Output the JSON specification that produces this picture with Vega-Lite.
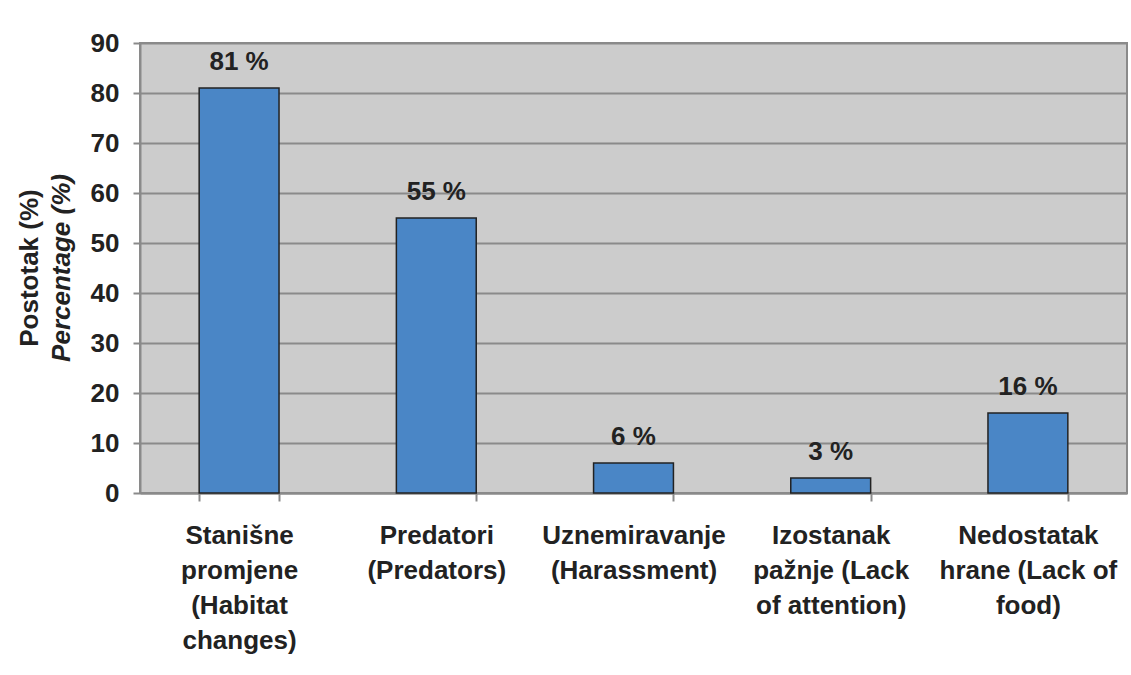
{
  "$schema": "https://vega.github.io/schema/vega-lite/v6.json",
  "width": 987,
  "height": 450,
  "autosize": {"type": "none"},
  "padding": {"left": 140, "top": 43, "right": 4, "bottom": 182},
  "background": "white",
  "data": {
    "values": [
      {"cat": "Stanišne|promjene|(Habitat|changes)", "pct": 81, "lbl": "81 %"},
      {"cat": "Predatori|(Predators)", "pct": 55, "lbl": "55 %"},
      {"cat": "Uznemiravanje|(Harassment)", "pct": 6, "lbl": "6 %"},
      {"cat": "Izostanak|pažnje (Lack|of attention)", "pct": 3, "lbl": "3 %"},
      {"cat": "Nedostatak|hrane (Lack of|food)", "pct": 16, "lbl": "16 %"}
    ]
  },
  "title": {
    "text": "Postotak (%)",
    "subtitle": "Percentage (%)",
    "orient": "left",
    "anchor": "middle",
    "font": "Liberation Sans",
    "fontSize": 26,
    "fontWeight": "bold",
    "color": "#222222",
    "subtitleFont": "Liberation Sans",
    "subtitleFontSize": 26,
    "subtitleFontWeight": "bold",
    "subtitleFontStyle": "italic",
    "subtitleColor": "#222222",
    "subtitlePadding": 6,
    "offset": 15
  },
  "config": {
    "view": {"fill": "#cccccc", "stroke": "#8a8a8a", "strokeWidth": 2},
    "font": "Liberation Sans"
  },
  "encoding": {
    "x": {
      "field": "cat",
      "type": "nominal",
      "sort": null,
      "scale": {"paddingInner": 0.595, "paddingOuter": 0.3},
      "axis": {
        "title": null,
        "labelAngle": 0,
        "labelExpr": "split(datum.label, '|')",
        "labelFont": "Liberation Sans",
        "labelFontSize": 26,
        "labelFontWeight": "bold",
        "labelColor": "#222222",
        "labelLineHeight": 35,
        "labelPadding": 21,
        "labelLimit": 0,
        "tickBand": "extent",
        "tickSize": 8,
        "tickColor": "#8a8a8a",
        "tickWidth": 2,
        "domainColor": "#8a8a8a",
        "domainWidth": 2,
        "grid": false
      }
    },
    "y": {
      "field": "pct",
      "type": "quantitative",
      "scale": {"domain": [0, 90], "nice": false},
      "axis": {
        "title": null,
        "values": [0, 10, 20, 30, 40, 50, 60, 70, 80, 90],
        "labelFont": "Liberation Sans",
        "labelFontSize": 26,
        "labelFontWeight": "bold",
        "labelColor": "#222222",
        "labelPadding": 14,
        "tickSize": 7,
        "tickColor": "#8a8a8a",
        "tickWidth": 2,
        "domainColor": "#8a8a8a",
        "domainWidth": 2,
        "grid": true,
        "gridColor": "#8a8a8a",
        "gridWidth": 2
      }
    }
  },
  "layer": [
    {
      "mark": {"type": "bar", "fill": "#4a86c6", "stroke": "#222222", "strokeWidth": 1.5}
    },
    {
      "mark": {
        "type": "text",
        "baseline": "alphabetic",
        "dy": -18,
        "font": "Liberation Sans",
        "fontSize": 26,
        "fontWeight": "bold",
        "color": "#222222"
      },
      "encoding": {"text": {"field": "lbl"}}
    }
  ]
}
